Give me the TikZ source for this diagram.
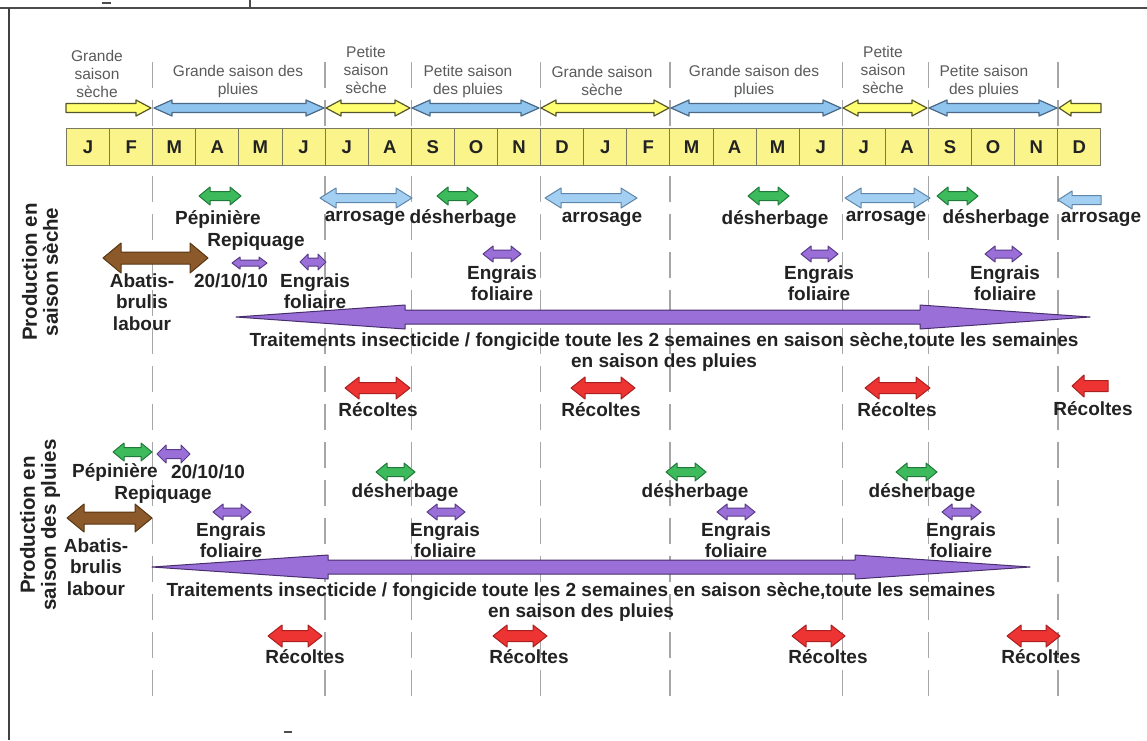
\documentclass[tikz,border=0pt]{standalone}
\usepackage{fontspec}
\setmainfont{Liberation Sans}
\definecolor{gFill}{HTML}{3DBB5C}
\definecolor{gLine}{HTML}{1F7A3A}
\definecolor{bFill}{HTML}{A3CFF2}
\definecolor{bLine}{HTML}{5F86A8}
\definecolor{pFill}{HTML}{9B6FD8}
\definecolor{pLine}{HTML}{5A3A8A}
\definecolor{brFill}{HTML}{8C5A2A}
\definecolor{brLine}{HTML}{573613}
\definecolor{rFill}{HTML}{EE3333}
\definecolor{rLine}{HTML}{A82020}
\definecolor{yFill}{HTML}{FFFF70}
\definecolor{yLine}{HTML}{55552A}
\definecolor{sbFill}{HTML}{8FC4EE}
\definecolor{sbLine}{HTML}{4A6A88}
\definecolor{boxFill}{HTML}{FAF48A}
\definecolor{boxLine}{HTML}{7A7A60}
\definecolor{txt}{HTML}{222222}
\definecolor{seaTxt}{HTML}{5A5A5A}
\newcommand\DblArr[7]{%
 \path[#1] (#2,#4) -- ({#2+#7},{#4-#6}) -- ({#2+#7},{#4-#5}) -- ({#3-#7},{#4-#5}) -- ({#3-#7},{#4-#6}) -- (#3,#4) -- ({#3-#7},{#4+#6}) -- ({#3-#7},{#4+#5}) -- ({#2+#7},{#4+#5}) -- ({#2+#7},{#4+#6}) -- cycle;}
\newcommand\RgtArr[7]{%
 \path[#1] (#2,{#4-#5}) -- ({#3-#7},{#4-#5}) -- ({#3-#7},{#4-#6}) -- (#3,#4) -- ({#3-#7},{#4+#6}) -- ({#3-#7},{#4+#5}) -- (#2,{#4+#5}) -- cycle;}
\newcommand\LftArr[7]{%
 \path[#1] (#2,#4) -- ({#2+#7},{#4-#6}) -- ({#2+#7},{#4-#5}) -- (#3,{#4-#5}) -- (#3,{#4+#5}) -- ({#2+#7},{#4+#5}) -- ({#2+#7},{#4+#6}) -- cycle;}
\begin{document}
\begin{tikzpicture}[x=1pt,y=-1pt,
  lab/.style={text=txt,font=\fontsize{19}{21.5}\selectfont\bfseries,inner sep=0pt,align=center},
  sea/.style={text=seaTxt,font=\fontsize{15.5}{18}\selectfont,inner sep=0pt,align=center},
  mon/.style={draw=boxLine,line width=1pt,fill=boxFill,minimum width=43.1pt,minimum height=37pt,inner sep=0pt,font=\fontsize{18.5}{20}\selectfont\bfseries,text=txt},
  side/.style={text=txt,font=\fontsize{20.5}{21}\selectfont\bfseries,inner sep=0pt,align=center,rotate=90},
  grn/.style={fill=gFill,draw=gLine,line width=1pt,line join=round},
  blu/.style={fill=bFill,draw=bLine,line width=1pt,line join=round},
  pur/.style={fill=pFill,draw=pLine,line width=1pt,line join=round},
  brn/.style={fill=brFill,draw=brLine,line width=1pt,line join=round},
  red/.style={fill=rFill,draw=rLine,line width=1pt,line join=round},
  seaY/.style={fill=yFill,draw=yLine,line width=1.2pt,line join=round},
  seaB/.style={fill=sbFill,draw=sbLine,line width=1.2pt,line join=round},
  big/.style={fill=pFill,draw=pLine!80!black,line width=1pt,line join=round},
  sep/.style={draw=black!35,line width=1.4pt,dash pattern=on 26pt off 12pt}]
\useasboundingbox (0,0) rectangle (1147,740);
\fill[white] (0,0) rectangle (1147,740);
% frame
\draw[black!70,line width=2pt] (0,8) -- (1147,8);
\draw[black!75,line width=1.6pt] (9,8) -- (9,740);
\draw[black!70,line width=1.2pt] (250,0) -- (250,8);
\draw[black!70,line width=1.5pt] (102,3) -- (111,3);
\draw[black!70,line width=1.5pt] (284,732) -- (292,732);
% separators
\foreach \xx in {152.7,325.1,411.3,540.6,669.9,842.3,928.5,1057.8}{
  \draw[sep] (\xx,62) -- (\xx,700);
}
% season labels
\node[sea] (s1) at (97,74) {Grande\\saison\\sèche};
\node[sea] (s2) at (238,81) {Grande saison des\\pluies};
\node[sea] (s3) at (366,70) {Petite\\saison\\sèche};
\node[sea] (s4) at (468,81) {Petite saison\\des pluies};
\node[sea] (s5) at (602,81) {Grande saison\\sèche};
\node[sea] (s6) at (754,81) {Grande saison des\\pluies};
\node[sea] (s7) at (883,70) {Petite\\saison\\sèche};
\node[sea] (s8) at (984,81) {Petite saison\\des pluies};
% season arrows
\RgtArr{seaY}{66}{151}{108}{4.5}{8}{15}
\DblArr{seaB}{154}{324}{108}{4.5}{8}{18}
\DblArr{seaY}{326}{410}{108}{4.5}{8}{15}
\DblArr{seaB}{412}{539}{108}{4.5}{8}{18}
\DblArr{seaY}{541}{669}{108}{4.5}{8}{15}
\DblArr{seaB}{671}{841}{108}{4.5}{8}{18}
\DblArr{seaY}{843}{927}{108}{4.5}{8}{15}
\DblArr{seaB}{929}{1057}{108}{4.5}{8}{18}
\LftArr{seaY}{1059}{1101}{108}{4.5}{8}{12}
% months
\foreach \m/\l [count=\i from 0] in {J,F,M,A,M,J,J,A,S,O,N,D,J,F,M,A,M,J,J,A,S,O,N,D}{
  \node[mon] (m\i) at ({66.5+43.1*\i+21.55},147) {\l};
}
% ---- dry season production
\node[side] (side1) at (40,272) {Production en\\saison sèche};
\DblArr{grn}{199}{241}{196}{4.5}{9}{11}
\node[lab] (t1) at (218,219) {Pépinière};
\node[lab] (t2) at (256,242) {Repiquage};
\DblArr{blu}{320}{412}{198}{4.5}{10}{16}
\node[lab] (t3) at (365,218) {arrosage};
\DblArr{grn}{437}{478}{196}{4.5}{9}{11}
\node[lab] (t4) at (463,219) {désherbage};
\DblArr{blu}{545}{637}{198}{4.5}{10}{16}
\node[lab] (t5) at (602,219) {arrosage};
\DblArr{grn}{748}{789}{196}{4.5}{9}{11}
\node[lab] (t6) at (775,220) {désherbage};
\DblArr{blu}{845}{930}{198}{4.5}{10}{16}
\node[lab] (t7) at (886,218) {arrosage};
\DblArr{grn}{937}{978}{196}{4.5}{9}{11}
\node[lab] (t8) at (996,219) {désherbage};
\LftArr{blu}{1058}{1101}{200}{4.5}{9}{14}
\node[lab] (t9) at (1101,219) {arrosage};
\DblArr{brn}{103}{208}{258}{6}{15}{18}
\node[lab] (t10) at (142,302) {Abatis-\\brulis\\labour};
\DblArr{pur}{232}{267}{263}{3}{6}{8}
\node[lab] (t11) at (231,281) {20/10/10};
\DblArr{pur}{300}{326}{262}{4}{8}{8}
\node[lab] (t12) at (315,291) {Engrais\\foliaire};
\DblArr{pur}{483}{521}{254}{4}{8}{10}
\node[lab] (t13) at (502,283) {Engrais\\foliaire};
\DblArr{pur}{801}{838}{254}{4}{8}{10}
\node[lab] (t14) at (819,283) {Engrais\\foliaire};
\DblArr{pur}{985}{1022}{254}{4}{8}{10}
\node[lab] (t15) at (1005,283) {Engrais\\foliaire};
\path[big] (236,317) -- (405,305) -- (405,310) -- (920,310) -- (920,305) -- (1090,317) -- (920,329) -- (920,324) -- (405,324) -- (405,329) -- cycle;
\node[lab] (t16) at (664,352) {Traitements insecticide / fongicide toute les 2 semaines en saison sèche,toute les semaines\\en saison des pluies};
\DblArr{red}{345}{410}{388}{5.5}{11}{14}
\node[lab] (t17) at (378,410) {Récoltes};
\DblArr{red}{571}{635}{388}{5.5}{11}{14}
\node[lab] (t18) at (601,410) {Récoltes};
\DblArr{red}{865}{930}{388}{5.5}{11}{14}
\node[lab] (t19) at (897,410) {Récoltes};
\LftArr{red}{1072}{1108}{386}{5.5}{11}{12}
\node[lab] (t20) at (1093,409) {Récoltes};
% ---- rainy season production
\node[side] (side2) at (40,525) {Production en\\saison des pluies};
\DblArr{grn}{113}{152}{452}{4.5}{9}{11}
\node[lab] (u1) at (115,472) {Pépinière};
\DblArr{pur}{157}{190}{454}{4.5}{9}{9}
\node[lab] (u2) at (208,472) {20/10/10};
\node[lab] (u3) at (163,495) {Repiquage};
\DblArr{brn}{67}{152}{518}{6}{14}{17}
\node[lab] (u4) at (96,567) {Abatis-\\brulis\\labour};
\DblArr{pur}{213}{251}{512}{4}{8}{10}
\node[lab] (u5) at (231,540) {Engrais\\foliaire};
\DblArr{grn}{376}{415}{472}{4.5}{9}{11}
\node[lab] (u6) at (405,493) {désherbage};
\DblArr{pur}{427}{465}{512}{4}{8}{10}
\node[lab] (u7) at (445,540) {Engrais\\foliaire};
\DblArr{grn}{666}{706}{472}{4.5}{9}{11}
\node[lab] (u8) at (695,493) {désherbage};
\DblArr{pur}{717}{755}{512}{4}{8}{10}
\node[lab] (u9) at (736,540) {Engrais\\foliaire};
\DblArr{grn}{896}{937}{472}{4.5}{9}{11}
\node[lab] (u10) at (922,493) {désherbage};
\DblArr{pur}{942}{981}{512}{4}{8}{10}
\node[lab] (u11) at (961,540) {Engrais\\foliaire};
\path[big] (152,567) -- (328,555) -- (328,560) -- (855,560) -- (855,555) -- (1030,567) -- (855,579) -- (855,574) -- (328,574) -- (328,579) -- cycle;
\node[lab] (u12) at (581,602) {Traitements insecticide / fongicide toute les 2 semaines en saison sèche,toute les semaines\\en saison des pluies};
\DblArr{red}{268}{322}{636}{5.5}{11}{14}
\node[lab] (u13) at (305,657) {Récoltes};
\DblArr{red}{493}{547}{636}{5.5}{11}{14}
\node[lab] (u14) at (529,657) {Récoltes};
\DblArr{red}{792}{845}{636}{5.5}{11}{14}
\node[lab] (u15) at (828,657) {Récoltes};
\DblArr{red}{1007}{1060}{636}{5.5}{11}{14}
\node[lab] (u16) at (1041,657) {Récoltes};
\end{tikzpicture}
\end{document}
